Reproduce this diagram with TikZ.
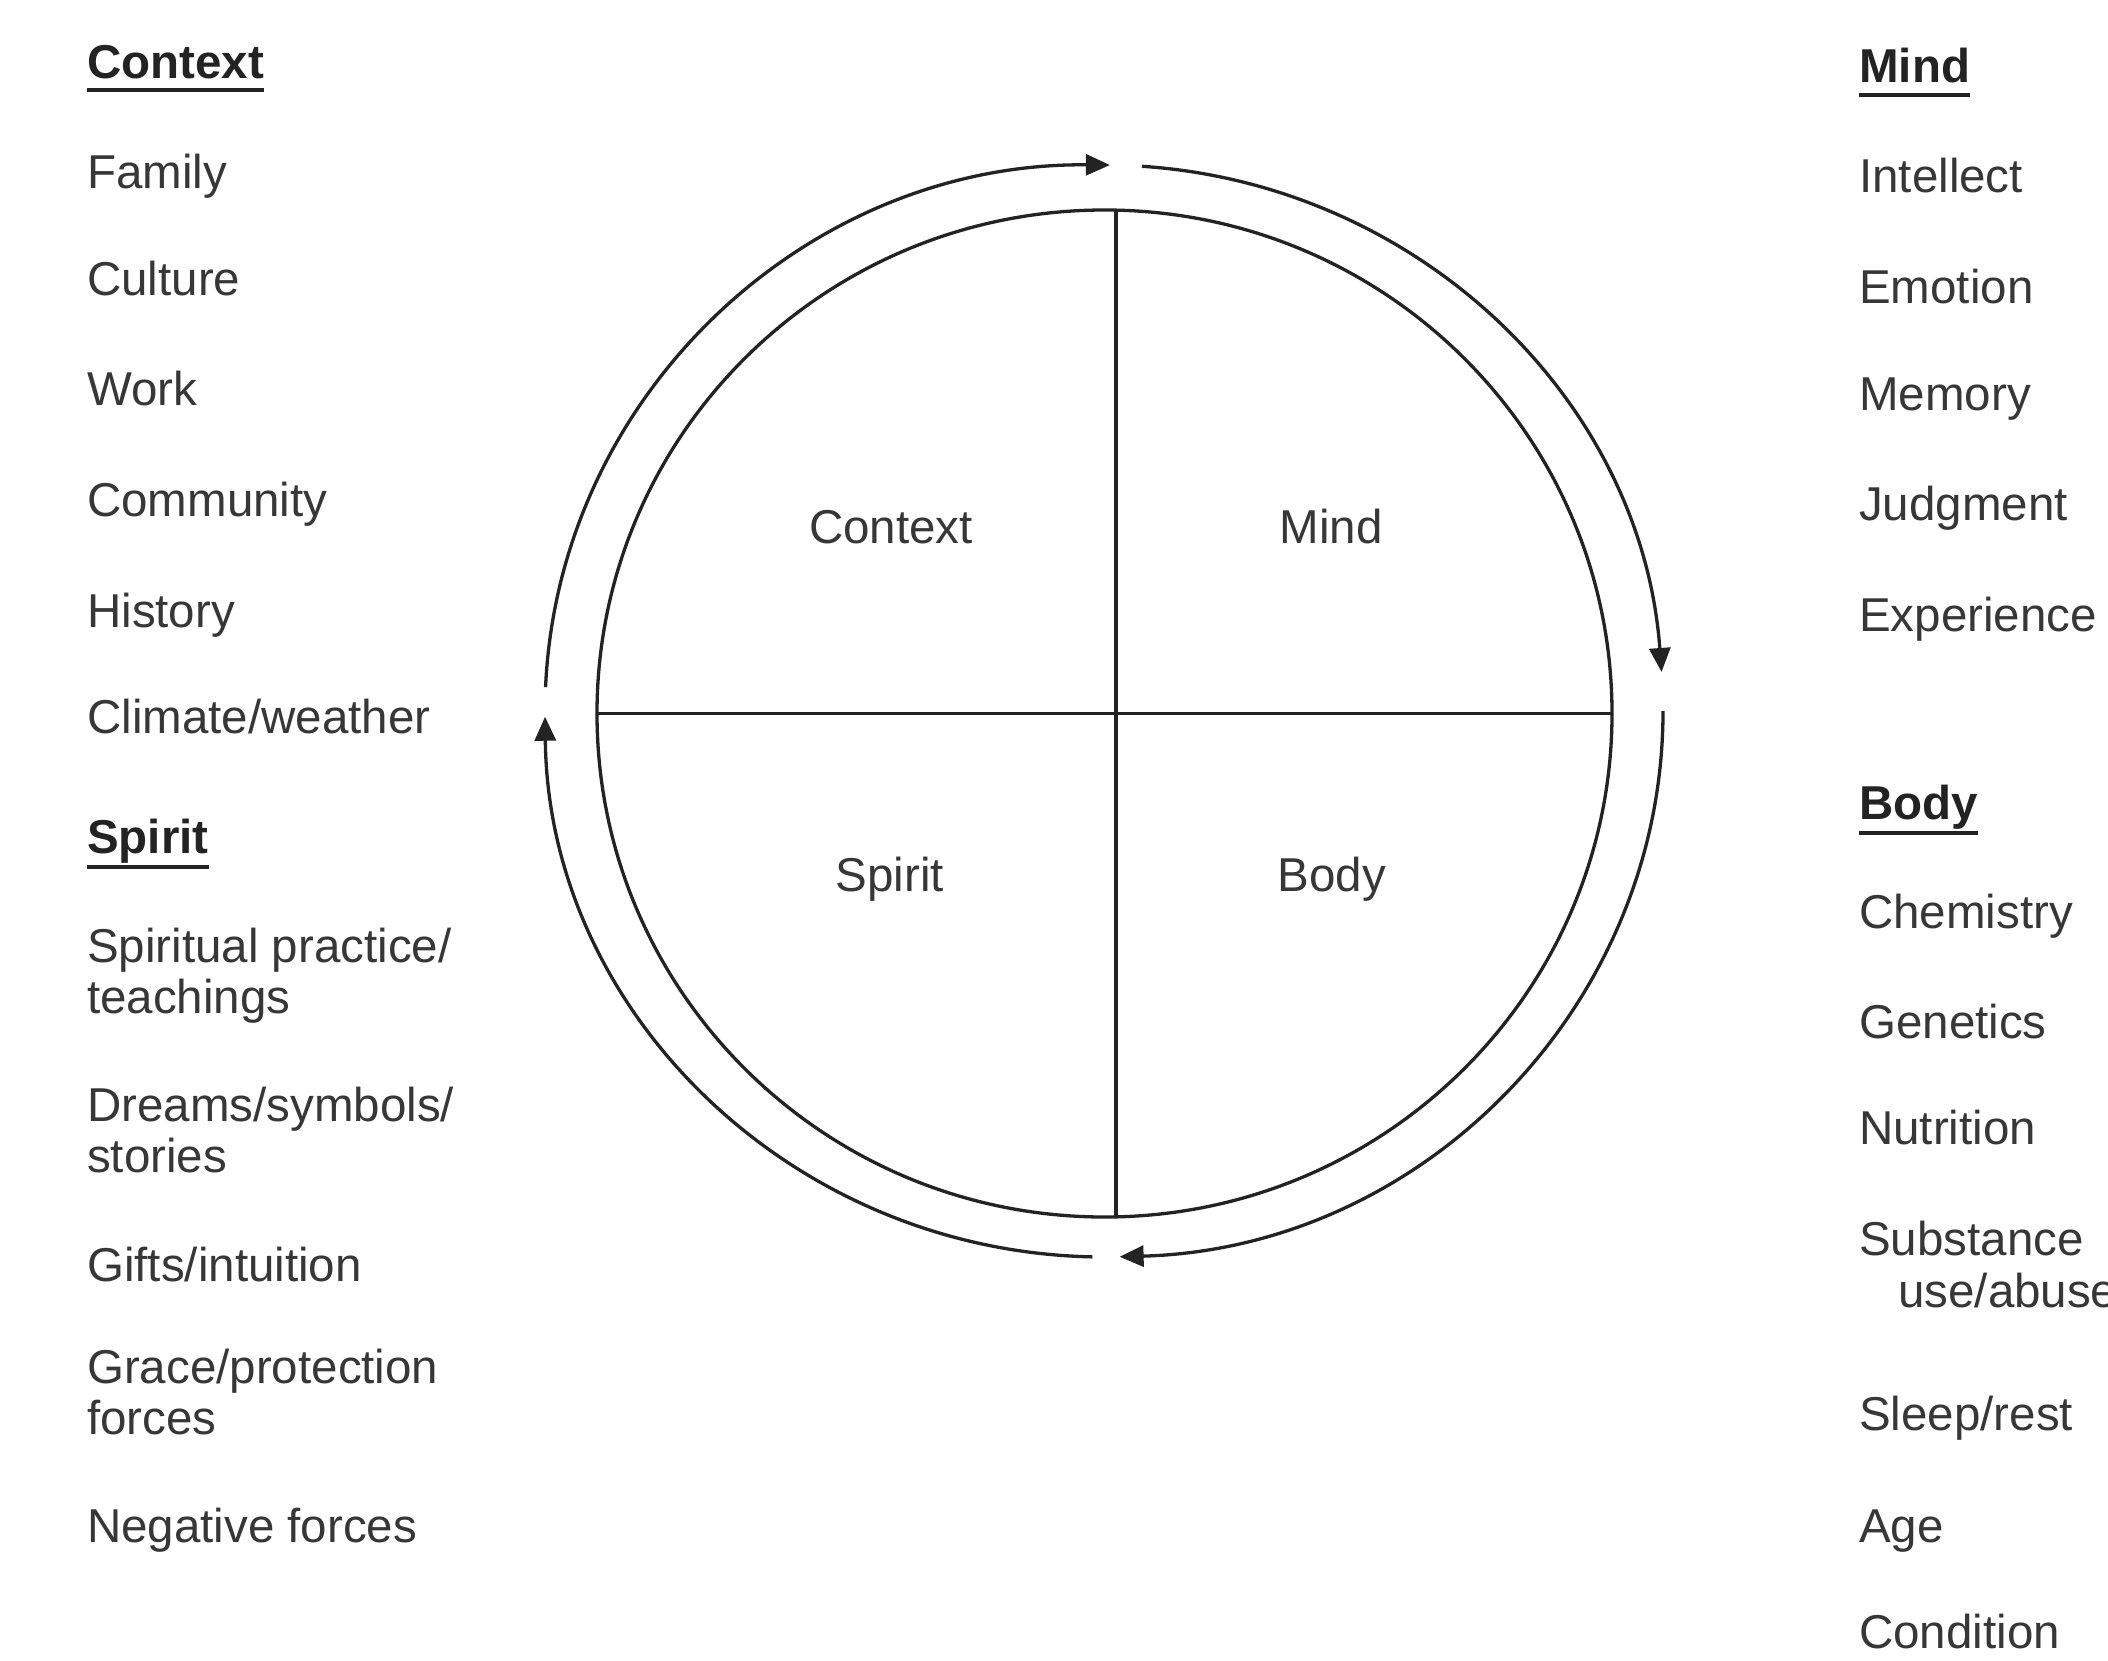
\documentclass[tikz,border=0pt]{standalone}
\usepackage{fontspec}
\setmainfont{Liberation Sans}
\usetikzlibrary{arrows.meta}
\definecolor{ink}{RGB}{35,35,35}
\definecolor{txt}{RGB}{55,55,55}
\begin{document}
\begin{tikzpicture}[x=1pt,y=1pt,
  lbl/.style={anchor=base west, inner sep=0pt, text=txt, font=\fontsize{47.5}{55}\selectfont},
  head/.style={anchor=base west, inner sep=0pt, text=ink, font=\fontsize{47.5}{55}\selectfont\bfseries},
  quad/.style={anchor=base, inner sep=0pt, text=txt, font=\fontsize{47.5}{55}\selectfont},
  ring/.style={draw=ink, line width=3.3pt},
  flow/.style={draw=ink, line width=3.3pt, -{Triangle[length=24pt,width=21pt]}},
  uline/.style={draw=ink, line width=3.8pt}]
\useasboundingbox (0,0) rectangle (2108,-1660);
\fill[white] (0,0) rectangle (2108,-1660);

% central circle
\coordinate (ic) at (1104.5,-713.5);
\coordinate (oc) at (1104,-711);
\draw[ring] (ic) ellipse [x radius=507.5pt, y radius=503.5pt];
\coordinate (hl) at (597,-713.5);
\coordinate (hr) at (1612,-713.5);
\coordinate (vt) at (1116,-210);
\coordinate (vb) at (1116,-1217);
\draw[ring] (hl) -- (hr);
\draw[ring] (vt) -- (vb);

% outer cycle arrows
\draw[flow] ([shift={(177.5:559pt and 546pt)}]oc) arc[start angle=177.5, end angle=89.4, x radius=559pt, y radius=546pt];
\draw[flow] ([shift={(86.1:559pt and 546pt)}]oc) arc[start angle=86.1, end angle=4.1, x radius=559pt, y radius=546pt];
\draw[flow] ([shift={(0:559pt and 546pt)}]oc) arc[start angle=0, end angle=-88.4, x radius=559pt, y radius=546pt];
\draw[flow] ([shift={(-91.2:559pt and 546pt)}]oc) arc[start angle=-91.2, end angle=-179.4, x radius=559pt, y radius=546pt];

% quadrant labels
\node[quad] (qctx) at (891,-543) {Context};
\node[quad] (qmind) at (1331,-543) {Mind};
\node[quad] (qspirit) at (890,-891) {Spirit};
\node[quad] (qbody) at (1332,-891) {Body};

% left column: Context
\node[head] (hctx) at (87,-78) {Context};
\draw[uline] ([yshift=-12pt]hctx.base west) -- ([yshift=-12pt]hctx.base east);
\node[lbl] (l1) at (87,-188) {Family};
\node[lbl] (l2) at (87,-295) {Culture};
\node[lbl] (l3) at (87,-405) {Work};
\node[lbl] (l4) at (87,-516) {Community};
\node[lbl] (l5) at (87,-627) {History};
\node[lbl] (l6) at (87,-733) {Climate/weather};

% left column: Spirit
\node[head] (hspirit) at (87,-853) {Spirit};
\draw[uline] ([yshift=-14pt]hspirit.base west) -- ([yshift=-14pt]hspirit.base east);
\node[lbl] (s1a) at (87,-962) {Spiritual practice/};
\node[lbl] (s1b) at (87,-1013) {teachings};
\node[lbl] (s2a) at (87,-1121) {Dreams/symbols/};
\node[lbl] (s2b) at (87,-1172) {stories};
\node[lbl] (s3) at (87,-1281) {Gifts/intuition};
\node[lbl] (s4a) at (87,-1383) {Grace/protection};
\node[lbl] (s4b) at (87,-1434) {forces};
\node[lbl] (s5) at (87,-1542) {Negative forces};

% right column: Mind
\node[head] (hmind) at (1859,-82) {Mind};
\draw[uline] ([yshift=-13pt]hmind.base west) -- ([yshift=-13pt]hmind.base east);
\node[lbl] (m1) at (1859,-192) {Intellect};
\node[lbl] (m2) at (1859,-303) {Emotion};
\node[lbl] (m3) at (1859,-410) {Memory};
\node[lbl] (m4) at (1859,-520) {Judgment};
\node[lbl] (m5) at (1859,-631) {Experience};

% right column: Body
\node[head] (hbody) at (1859,-819) {Body};
\draw[uline] ([yshift=-14pt]hbody.base west) -- ([yshift=-14pt]hbody.base east);
\node[lbl] (b1) at (1859,-928) {Chemistry};
\node[lbl] (b2) at (1859,-1038) {Genetics};
\node[lbl] (b3) at (1859,-1144) {Nutrition};
\node[lbl] (b4a) at (1859,-1255) {Substance};
\node[lbl] (b4b) at (1898,-1307) {use/abuse};
\node[lbl] (b5) at (1859,-1430) {Sleep/rest};
\node[lbl] (b6) at (1859,-1542) {Age};
\node[lbl] (b7) at (1859,-1648) {Condition};
\end{tikzpicture}
\end{document}
